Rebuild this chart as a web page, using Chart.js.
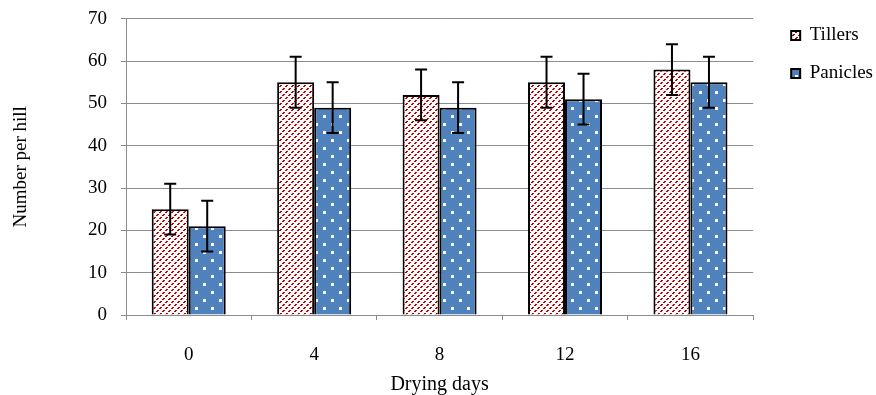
<!DOCTYPE html>
<html>
<head>
<meta charset="utf-8">
<script src="https://cdn.jsdelivr.net/npm/chart.js@4.4.0/dist/chart.umd.min.js"></script>
<style>
  html, body { margin: 0; padding: 0; background: #fff; }
  #wrap { width: 876px; height: 395px; }
</style>
</head>
<body>
<div id="wrap"><canvas id="chart" width="876" height="395"></canvas></div>
<script>
// data
const dryingDays = ['0', '4', '8', '12', '16'];
const tillers = [25, 55, 52, 55, 58];
const tillersErr = [6, 6, 6, 6, 6];
const panicles = [21, 49, 49, 51, 55];
const paniclesErr = [6, 6, 6, 6, 6];

// red dashed upward hatch for tillers
function makeTillersPattern(ctx) {
  const c = document.createElement('canvas');
  c.width = 6; c.height = 6;
  const p = c.getContext('2d');
  p.fillStyle = '#ffffff';
  p.fillRect(0, 0, 6, 6);
  p.fillStyle = '#c00000';
  for (let i = 0; i < 6; i++) {
    if (i % 3 === 2) continue;
    p.fillRect(i, 5 - i, 1, 1);
    p.fillRect((i + 1) % 6, 5 - i, 1, 1);
  }
  return ctx.createPattern(c, 'repeat');
}

// blue with white dots for panicles
function makePaniclesPattern(ctx) {
  const c = document.createElement('canvas');
  c.width = 16; c.height = 16;
  const p = c.getContext('2d');
  p.fillStyle = '#4f81bd';
  p.fillRect(0, 0, 16, 16);
  p.fillStyle = '#ffffff';
  p.fillRect(3, 3, 3, 3);
  p.fillRect(11, 11, 3, 3);
  return ctx.createPattern(c, 'repeat');
}

const errorBars = {
  id: 'errorBars',
  afterDatasetsDraw(chart) {
    const ctx = chart.ctx;
    const y = chart.scales.y;
    const errs = [tillersErr, paniclesErr];
    ctx.save();
    ctx.strokeStyle = '#000';
    ctx.lineWidth = 2;
    chart.data.datasets.forEach((ds, di) => {
      const meta = chart.getDatasetMeta(di);
      meta.data.forEach((bar, i) => {
        const v = ds.data[i], e = errs[di][i];
        const top = y.getPixelForValue(v + e);
        const bot = y.getPixelForValue(v - e);
        ctx.beginPath();
        ctx.moveTo(bar.x, top); ctx.lineTo(bar.x, bot);
        ctx.moveTo(bar.x - 6, top); ctx.lineTo(bar.x + 6, top);
        ctx.moveTo(bar.x - 6, bot); ctx.lineTo(bar.x + 6, bot);
        ctx.stroke();
      });
    });
    ctx.restore();
  }
};

// gap between plot and legend, and nudge legend items
const LEGEND_EXTRA_W = 12;
const LEGEND_SHIFT_X = 19;
const LEGEND_SHIFT_Y = 5;
const legendGap = {
  id: 'legendGap',
  beforeLayout(chart) {
    const lg = chart.legend;
    if (lg && !lg._gapPatched) {
      const fit = lg.fit;
      lg.fit = function () { fit.call(this); this.width += LEGEND_EXTRA_W; };
      lg._gapPatched = true;
    }
  },
  afterLayout(chart) {
    if (chart.legend) {
      chart.legend.left += LEGEND_SHIFT_X;
      chart.legend.top += LEGEND_SHIFT_Y;
    }
  }
};

const canvas = document.getElementById('chart');
const ctx = canvas.getContext('2d');
const serif = "'Liberation Serif', 'Times New Roman', serif";
const gridGray = '#8c8c8c';

new Chart(ctx, {
  type: 'bar',
  data: {
    labels: dryingDays,
    datasets: [
      {
        label: 'Tillers',
        data: tillers,
        backgroundColor: makeTillersPattern(ctx),
        borderColor: '#000',
        borderWidth: 2,
        borderSkipped: 'start'
      },
      {
        label: 'Panicles',
        data: panicles,
        backgroundColor: makePaniclesPattern(ctx),
        borderColor: '#000',
        borderWidth: 2,
        borderSkipped: 'start'
      }
    ]
  },
  options: {
    responsive: false,
    animation: false,
    layout: { padding: { top: 2, right: 0, left: 0, bottom: 0 } },
    datasets: { bar: { barPercentage: 1, categoryPercentage: 0.59 } },
    scales: {
      x: {
        grid: { offset: true, drawOnChartArea: false, drawTicks: true, tickLength: 5, color: gridGray },
        border: { color: gridGray, width: 1 },
        ticks: { color: '#000', font: { family: serif, size: 19 }, padding: 23.6 },
        title: { display: true, text: 'Drying days', color: '#000', font: { family: serif, size: 20 }, padding: { top: -17, bottom: -2 } }
      },
      y: {
        min: 0, max: 70,
        ticks: { stepSize: 10, color: '#000', font: { family: serif, size: 19, lineHeight: 0.5 }, padding: 14 },
        grid: { color: gridGray, tickLength: 5 },
        border: { color: gridGray, width: 1 },
        title: { display: true, text: 'Number per hill', color: '#000', font: { family: serif, size: 19 }, padding: { top: 9.6, bottom: 41.6 } }
      }
    },
    plugins: {
      legend: {
        position: 'right',
        align: 'start',
        labels: { color: '#000', font: { family: serif, size: 19 }, boxWidth: 9, boxHeight: 9, padding: 19 }
      },
      tooltip: { enabled: false }
    }
  },
  plugins: [errorBars, legendGap]
});
</script>
</body>
</html>
